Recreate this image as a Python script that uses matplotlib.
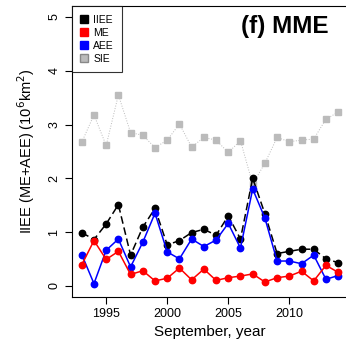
import numpy as np
import matplotlib
matplotlib.use('Agg')
import matplotlib.pyplot as plt

plt.rcParams['font.family'] = ['Liberation Sans', 'DejaVu Sans']

years = list(range(1993, 2015))

iiee = [0.99, 0.86, 1.15, 1.51, 0.57, 1.09, 1.44, 0.76, 0.84, 0.99, 1.05,
        0.94, 1.30, 0.87, 2.00, 1.34, 0.60, 0.64, 0.68, 0.68, 0.50, 0.43]
me = [0.39, 0.84, 0.49, 0.64, 0.21, 0.28, 0.09, 0.14, 0.33, 0.11, 0.31,
      0.10, 0.15, 0.18, 0.22, 0.07, 0.15, 0.18, 0.27, 0.09, 0.38, 0.25]
aee = [0.58, 0.04, 0.66, 0.87, 0.35, 0.81, 1.35, 0.63, 0.50, 0.87, 0.73,
       0.85, 1.16, 0.70, 1.80, 1.26, 0.46, 0.46, 0.41, 0.57, 0.12, 0.19]
sie = [2.67, 3.18, 2.61, 3.55, 2.85, 2.80, 2.57, 2.71, 3.01, 2.58, 2.76,
       2.71, 2.48, 2.70, 1.89, 2.28, 2.76, 2.68, 2.71, 2.73, 3.10, 3.23]

fig = plt.figure(figsize=(3.46, 3.47), dpi=100)
ax = fig.add_axes([71.5 / 346, 1 - 296.5 / 347, (348.4 - 71.5) / 346, (296.5 - 6.3) / 347])

ax.plot(years, sie, color='#bbbbbb', lw=0.7, ls=':', marker='s', ms=4.2,
        mec='#bbbbbb', mfc='#bbbbbb', zorder=2)
ax.plot(years, iiee, color='black', lw=1.1, ls=(0, (5, 2.5)), marker='o', ms=4.6, zorder=3)
ax.plot(years, aee, color='blue', lw=1.1, marker='o', ms=4.6, zorder=4)
ax.plot(years, me, color='red', lw=1.1, marker='o', ms=4.6, zorder=5)

ax.set_xlim(1992.16, 2014.84)
ax.set_ylim(-0.2, 5.2)
ax.set_xticks([1995, 2000, 2005, 2010])
ax.set_yticks([0, 1, 2, 3, 4, 5])
ax.set_yticklabels(['0', '1', '2', '3', '4', '5'], rotation=90, va='center')
ax.tick_params(labelsize=9, length=5, width=0.8, direction='out', pad=3)

for side in ['left', 'bottom', 'top', 'right']:
    ax.spines[side].set_linewidth(0.8)

ax.set_xlabel('September, year', fontsize=11, labelpad=4)
ax.set_ylabel('IIEE (ME+AEE) (10$^6$km$^2$)', fontsize=10.5, labelpad=8)

ax.text(0.93, 0.93, '(f) MME', transform=ax.transAxes, ha='right', va='center',
        fontsize=17.5, fontweight='bold')

handles = []
for c, ec, lab in [('black', 'black', 'IIEE'), ('red', 'red', 'ME'),
                   ('blue', 'blue', 'AEE'), ('#bbbbbb', '#888888', 'SIE')]:
    handles.append(plt.Line2D([], [], ls='none', marker='s', ms=5.5, mfc=c, mec=ec, label=lab))
leg = ax.legend(handles=handles, loc='upper left', borderaxespad=0, fontsize=7.5,
                frameon=True, fancybox=False, edgecolor='black', handlelength=0.8,
                handletextpad=0.5, labelspacing=0.3, borderpad=0.8)
leg.get_frame().set_linewidth(0.8)

fig.savefig('out.png', dpi=100)
